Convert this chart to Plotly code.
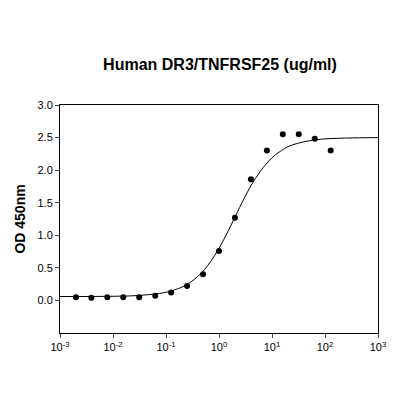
import plotly.graph_objects as go

conc = [0.002, 0.0039, 0.0078, 0.0156, 0.03125, 0.0625, 0.125, 0.25, 0.5, 1, 2, 4, 8, 16, 32, 64, 128]
od = [0.05, 0.04, 0.05, 0.05, 0.05, 0.07, 0.12, 0.22, 0.40, 0.76, 1.27, 1.86, 2.30, 2.55, 2.55, 2.48, 2.30]

curve_x = [0.001, 0.01, 0.03, 0.1, 0.2, 0.3, 0.5, 0.7, 1, 1.5, 2, 3, 4, 6, 10, 15, 20, 30, 50, 100, 1000]
curve_y = [0.06, 0.064, 0.076, 0.125, 0.205, 0.287, 0.448, 0.60, 0.80, 1.07, 1.28, 1.57, 1.76, 1.98, 2.19, 2.30, 2.36, 2.41, 2.45, 2.48, 2.50]

tick_vals = [0.001, 0.01, 0.1, 1, 10, 100, 1000]
tick_text = ["10<sup>-3</sup>", "10<sup>-2</sup>", "10<sup>-1</sup>", "10<sup>0</sup>", "10<sup>1</sup>", "10<sup>2</sup>", "10<sup>3</sup>"]

fig = go.Figure()
fig.add_trace(go.Scatter(x=curve_x, y=curve_y, mode="lines", line=dict(color="black", width=1, shape="spline"), hoverinfo="skip"))
fig.add_trace(go.Scatter(x=conc, y=od, mode="markers", marker=dict(color="black", size=6)))

fig.update_layout(
    width=400, height=400, showlegend=False,
    paper_bgcolor="white", plot_bgcolor="white",
    margin=dict(l=52, r=30, t=97, b=75, autoexpand=False),
    font=dict(family="Liberation Sans, Arial", color="black", size=11),
    title=dict(text="<b>Human DR3/TNFRSF25 (ug/ml)</b>", x=0.53, xref="container", xanchor="center",
               y=0.86, yref="container", yanchor="middle", font=dict(size=16), automargin=False),
)
fig.update_xaxes(type="log", range=[-3, 3], tickvals=tick_vals, ticktext=tick_text,
                 showline=True, linecolor="black", linewidth=1, mirror=True, ticks="outside",
                 ticklen=4, showgrid=False, zeroline=False, automargin=False)
fig.update_yaxes(range=[-0.5, 3.0], tickvals=[0, 0.5, 1.0, 1.5, 2.0, 2.5, 3.0],
                 ticktext=["0.0", "0.5", "1.0", "1.5", "2.0", "2.5", "3.0"],
                 showline=True, linecolor="black", linewidth=1, mirror=True, ticks="outside",
                 ticklen=4, showgrid=False, zeroline=False, automargin=False,
                 title=dict(text="<b>OD 450nm</b>", font=dict(size=14), standoff=8))
fig.write_html("out.html")
